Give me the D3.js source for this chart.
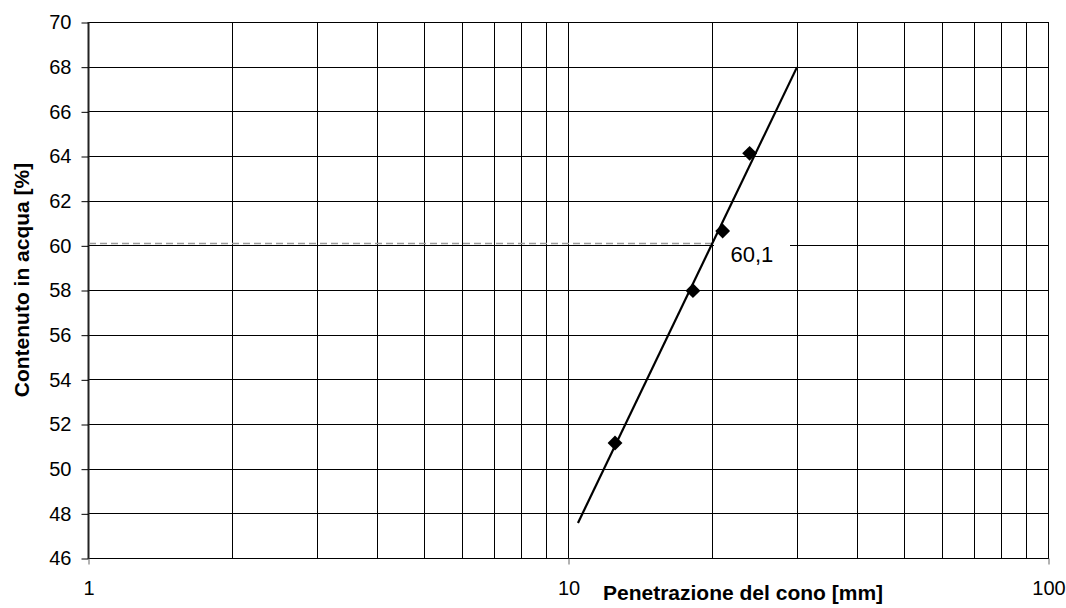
<!DOCTYPE html>
<html>
<head>
<meta charset="utf-8">
<script src="https://cdn.jsdelivr.net/npm/d3@7"></script>
<style>
  body { margin: 0; background: #fff; }
  svg { display: block; font-family: "Liberation Sans", Arial, sans-serif; }
</style>
</head>
<body>
<svg id="canvas" width="1066" height="608"></svg>
<script>
// data
let penetration = [12.53, 18.21, 21.0, 23.9];     // mm
let waterContent = [51.15, 57.97, 60.64, 64.12];  // %
let trendX = [10.49, 30.0];
let trendY = [47.57, 67.98];
let liquidLimit = 60.1;
let liquidLimitX = 20;
let liquidLimitLabel = '60,1';

let xGrid = [1, 2, 3, 4, 5, 6, 7, 8, 9, 10, 20, 30, 40, 50, 60, 70, 80, 90, 100];
let xTickLabels = [1, 10, 100];
let yTicks = [46, 48, 50, 52, 54, 56, 58, 60, 62, 64, 66, 68, 70];

let canvas = d3.select('#canvas');

let plotLeft = 88, plotRight = 1048, plotTop = 22, plotBottom = 558;

let x = d3.scaleLog().domain([1, 100]).range([plotLeft, plotRight]);
let y = d3.scaleLinear().domain([46, 70]).range([plotBottom, plotTop]);

// grid
canvas.append('g')
  .selectAll('line')
  .data(yTicks)
  .enter()
  .append('line')
  .attr('x1', plotLeft)
  .attr('x2', plotRight)
  .attr('y1', (d) => Math.round(y(d)) + 0.5)
  .attr('y2', (d) => Math.round(y(d)) + 0.5)
  .attr('stroke', '#000')
  .attr('stroke-width', 1);

canvas.append('g')
  .selectAll('line')
  .data(xGrid)
  .enter()
  .append('line')
  .attr('x1', (d) => Math.round(x(d)) + 0.5)
  .attr('x2', (d) => Math.round(x(d)) + 0.5)
  .attr('y1', plotTop)
  .attr('y2', plotBottom)
  .attr('stroke', '#000')
  .attr('stroke-width', 1);

// border
canvas.append('rect')
  .attr('x', plotLeft + 0.5)
  .attr('y', plotTop + 0.5)
  .attr('width', plotRight - plotLeft)
  .attr('height', plotBottom - plotTop)
  .attr('fill', 'none')
  .attr('stroke', '#000')
  .attr('stroke-width', 1);
canvas.append('line')
  .attr('x1', plotLeft + 0.5).attr('x2', plotLeft + 0.5)
  .attr('y1', plotTop).attr('y2', plotBottom + 1)
  .attr('stroke', '#222').attr('stroke-width', 2);

// axes
let yAxis = canvas.append('g')
  .attr('transform', 'translate(' + (plotLeft + 0.5) + ',0.5)')
  .call(d3.axisLeft(y).tickValues(yTicks).tickSize(7).tickPadding(10).tickFormat(d3.format('d')));
yAxis.select('.domain').remove();
yAxis.selectAll('text').style('font-size', '20px').attr('fill', '#000').attr('font-family', '"Liberation Sans", Arial, sans-serif');

let xAxis = canvas.append('g')
  .attr('transform', 'translate(0.5,' + (plotBottom + 0.5) + ')')
  .call(d3.axisBottom(x).tickValues(xTickLabels).tickSize(6).tickPadding(16).tickFormat(d3.format('d')));
xAxis.select('.domain').remove();
xAxis.selectAll('line').attr('stroke', '#666');
xAxis.selectAll('text').style('font-size', '20px').attr('fill', '#000').attr('font-family', '"Liberation Sans", Arial, sans-serif');

// axis titles
canvas.append('text')
  .attr('x', 603)
  .attr('y', 600)
  .attr('font-size', 21)
  .attr('font-weight', 'bold')
  .text('Penetrazione del cono [mm]');

canvas.append('text')
  .attr('transform', 'translate(29,280) rotate(-90)')
  .attr('text-anchor', 'middle')
  .attr('font-size', 21)
  .attr('font-weight', 'bold')
  .text('Contenuto in acqua [%]');

// liquid limit guide
canvas.append('line')
  .attr('x1', plotLeft + 1)
  .attr('x2', x(liquidLimitX))
  .attr('y1', Math.round(y(liquidLimit)) + 0.5)
  .attr('y2', Math.round(y(liquidLimit)) + 0.5)
  .attr('stroke', '#999')
  .attr('stroke-width', 1.3)
  .attr('stroke-dasharray', '7,4');

canvas.append('rect')
  .attr('x', x(liquidLimitX) + 1.5)
  .attr('y', y(liquidLimit) - 6)
  .attr('width', 76)
  .attr('height', 30)
  .attr('fill', '#fff');

canvas.append('text')
  .attr('x', x(liquidLimitX) + 18)
  .attr('y', y(liquidLimit) + 19)
  .attr('font-size', 22)
  .text(liquidLimitLabel);

// trend line
canvas.append('line')
  .attr('x1', x(trendX[0]))
  .attr('y1', y(trendY[0]))
  .attr('x2', x(trendX[1]))
  .attr('y2', y(trendY[1]))
  .attr('stroke', '#000')
  .attr('stroke-width', 2.2);

// points
canvas.append('g')
  .selectAll('path')
  .data(penetration)
  .enter()
  .append('path')
  .attr('d', d3.symbol().type(d3.symbolSquare).size(110))
  .attr('transform', (d, i) => 'translate(' + x(d) + ',' + y(waterContent[i]) + ') rotate(45)')
  .attr('fill', '#000');
</script>
</body>
</html>
